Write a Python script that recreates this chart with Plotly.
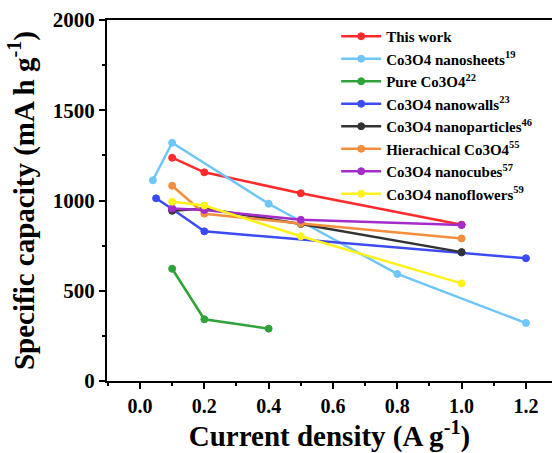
import plotly.graph_objects as go

names = [
    "This work",
    "Co3O4 nanosheets<sup>19</sup>",
    "Pure Co3O4<sup>22</sup>",
    "Co3O4 nanowalls<sup>23</sup>",
    "Co3O4 nanoparticles<sup>46</sup>",
    "Hierachical Co3O4<sup>55</sup>",
    "Co3O4 nanocubes<sup>57</sup>",
    "Co3O4 nanoflowers<sup>59</sup>",
]
colors = ["#FF2B2B", "#6EC6FA", "#2FA23A", "#3D4BF5", "#333333", "#F28E3C", "#A42CCB", "#FFF21A"]

x_this = [0.1, 0.2, 0.5, 1.0]
y_this = [1237, 1156, 1040, 866]
x_sheets = [0.04, 0.1, 0.4, 0.8, 1.2]
y_sheets = [1112, 1320, 982, 593, 321]
x_pure = [0.1, 0.2, 0.4]
y_pure = [622, 342, 290]
x_walls = [0.05, 0.1, 0.2, 1.0, 1.2]
y_walls = [1012, 953, 829, 712, 680]
x_particles = [0.1, 0.2, 0.5, 1.0]
y_particles = [943, 955, 870, 714]
x_hier = [0.1, 0.2, 0.5, 1.0]
y_hier = [1082, 927, 872, 790]
x_cubes = [0.1, 0.2, 0.5, 1.0]
y_cubes = [955, 947, 893, 864]
x_flowers = [0.1, 0.2, 0.5, 1.0]
y_flowers = [993, 972, 802, 541]

xs = [x_this, x_sheets, x_pure, x_walls, x_particles, x_hier, x_cubes, x_flowers]
ys = [y_this, y_sheets, y_pure, y_walls, y_particles, y_hier, y_cubes, y_flowers]

x_ticks = [0.0, 0.2, 0.4, 0.6, 0.8, 1.0, 1.2]
x_tick_labels = ["0.0", "0.2", "0.4", "0.6", "0.8", "1.0", "1.2"]
y_ticks = [0, 500, 1000, 1500, 2000]

FONT = "Liberation Serif"

fig = go.Figure()
for n, c, xv, yv in zip(names, colors, xs, ys):
    fig.add_trace(go.Scatter(
        x=xv, y=yv, name="<b>" + n + "</b>", mode="lines+markers",
        line=dict(color=c, width=2.5),
        marker=dict(color=c, size=7, symbol="circle",
                    line=dict(color=c, width=1)),
    ))

fig.update_layout(
    width=552, height=453,
    margin=dict(l=107, r=0, t=20, b=72),
    paper_bgcolor="white", plot_bgcolor="white",
    font=dict(family=FONT, color="black"),
    showlegend=True,
    legend=dict(
        x=0.515, y=1.0, xanchor="left", yanchor="top",
        font=dict(family=FONT, size=15, color="black"),
        bgcolor="rgba(0,0,0,0)", borderwidth=0,
        tracegroupgap=0, itemwidth=40,
    ),
    xaxis=dict(
        range=[-0.1026, 1.281],
        tickmode="array", tickvals=x_ticks, ticktext=x_tick_labels,
        ticks="outside", ticklen=6, tickwidth=2, tickcolor="black",
        minor=dict(dtick=0.1, ticks="outside", ticklen=3, tickwidth=2, tickcolor="black", showgrid=False),
        showline=True, linewidth=2, linecolor="black", mirror=True,
        showgrid=False, zeroline=False,
        tickfont=dict(family=FONT, size=20, color="black", weight="bold"),
        title=dict(text="<b>Current density (A g<sup>-1</sup>)</b>",
                   font=dict(family=FONT, size=29, color="black"), standoff=10),
    ),
    yaxis=dict(
        range=[0, 2000],
        tickmode="array", tickvals=y_ticks,
        ticks="outside", ticklen=6, tickwidth=2, tickcolor="black",
        minor=dict(dtick=250, ticks="outside", ticklen=3, tickwidth=2, tickcolor="black", showgrid=False),
        showline=True, linewidth=2, linecolor="black", mirror=False,
        showgrid=False, zeroline=False,
        tickfont=dict(family=FONT, size=21, color="black", weight="bold"),
        title=dict(text="<b>Specific capacity (mA h g<sup>-1</sup>)</b>",
                   font=dict(family=FONT, size=29, color="black"), standoff=10),
    ),
)

fig.write_html("out.html")
